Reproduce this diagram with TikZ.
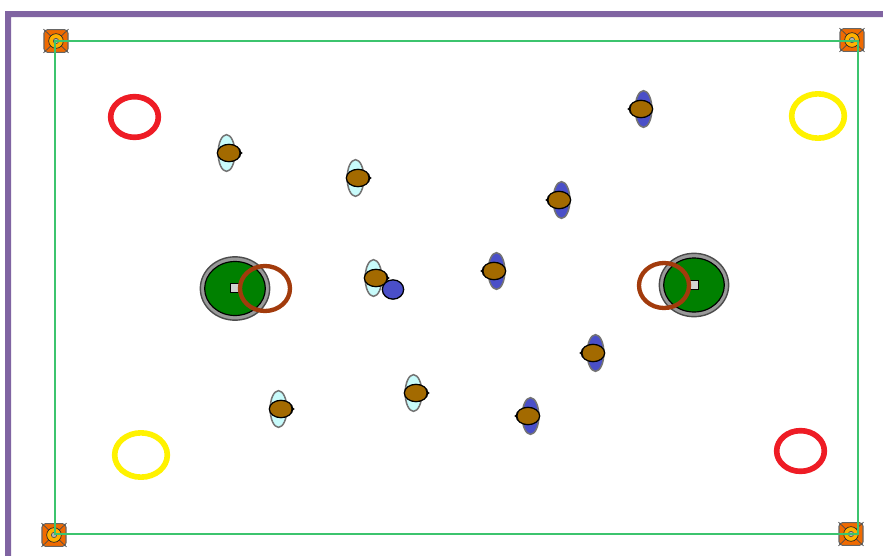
\documentclass[tikz,border=0pt]{standalone}
\usetikzlibrary{shapes.geometric, positioning}
\definecolor{frame-purple}{HTML}{8064A2}
\definecolor{field-green}{HTML}{3CC46E}
\definecolor{ring-red}{HTML}{EE1C25}
\definecolor{ring-yellow}{HTML}{FFF200}
\definecolor{ring-brown}{HTML}{A23B0C}
\definecolor{goal-green}{HTML}{008000}
\definecolor{goal-grey}{HTML}{999999}
\definecolor{body-brown}{HTML}{A36A00}
\definecolor{side-cyan}{HTML}{C8FBFB}
\definecolor{side-blue}{HTML}{4A4FC8}
\definecolor{post-orange}{HTML}{F06A00}
\definecolor{post-yellow}{HTML}{FFB000}
\tikzset{
  x=0.03cm, y=-0.03cm,
  oval/.style={ellipse, inner sep=0pt, outer sep=0pt},
  ringmark/.style={oval, draw=#1, line width=4.8pt, fill=none},
  goalrim/.style={oval, draw=black!70, fill=goal-grey, line width=1.2pt,
    minimum width=2.08cm, minimum height=1.9cm},
  goalpad/.style={oval, draw=black, fill=goal-green, line width=1pt,
    minimum width=1.82cm, minimum height=1.62cm},
  goalspot/.style={draw=black, fill=black!18, line width=1pt, inner sep=0pt,
    minimum width=0.28cm, minimum height=0.28cm},
  sidecyan/.style={oval, draw=black!55, fill=side-cyan, line width=1.3pt,
    minimum width=0.5cm, minimum height=1.1cm},
  sideblue/.style={oval, draw=black!55, fill=side-blue, line width=1.3pt,
    minimum width=0.5cm, minimum height=1.1cm},
  bodybrown/.style={oval, draw=black, fill=body-brown, line width=1.1pt,
    minimum width=0.7cm, minimum height=0.52cm},
  bodycore/.style={oval, fill=body-brown, minimum width=0.62cm, minimum height=0.45cm},
  ballblue/.style={oval, draw=black, fill=side-blue, line width=1.1pt,
    minimum width=0.64cm, minimum height=0.58cm},
  postbox/.style={draw=black!60, fill=post-orange, rounded corners=3pt, line width=0.9pt,
    minimum width=0.72cm, minimum height=0.68cm, inner sep=0pt},
  postring/.style={circle, draw=black!85, fill=post-yellow, line width=0.6pt,
    minimum size=0.44cm, inner sep=0pt},
  posteye/.style={circle, draw=black!70, fill=black!30, line width=0.5pt,
    minimum size=0.16cm, inner sep=0pt},
  fieldline/.style={draw=field-green, line width=1pt}
}

\begin{document}
\begin{tikzpicture}
  \useasboundingbox (0,0) rectangle (883,556);

  % ---- outer frame ---------------------------------------------------------
  \fill[frame-purple] (5,556) -- (5,11) -- (883,11) -- (883,17) -- (11,17) -- (11,556) -- cycle;

  % ---- corner posts --------------------------------------------------------
  \foreach \name/\px/\py in {nw/56/41, ne/852/40, se/851/534, sw/54/535} {
    \node[postbox] (\name) at (\px,\py) {};
    \draw[black!70, line width=0.6pt] (\name.north west) -- (\name.south east)
      (\name.north east) -- (\name.south west);
    \node[postring] (\name-ring) at (\name) {};
    \node[posteye] (\name-eye) at (\name) {};
  }

  % ---- field lines ---------------------------------------------------------
  \coordinate (fieldA) at (55,41);
  \coordinate (fieldB) at (858,41);
  \coordinate (fieldC) at (858,534);
  \coordinate (fieldD) at (55,534);
  \draw[fieldline] (fieldA) -- (fieldB) -- (fieldC) -- (fieldD) -- cycle;

  % ---- corner rings --------------------------------------------------------
  \node[ringmark=ring-red, minimum width=1.43cm, minimum height=1.22cm] (red1) at (134.5,117) {};
  \node[ringmark=ring-red, minimum width=1.43cm, minimum height=1.22cm] (red2) at (800.5,451) {};
  \node[ringmark=ring-yellow, minimum width=1.58cm, minimum height=1.33cm] (yellow1) at (818,116) {};
  \node[ringmark=ring-yellow, minimum width=1.58cm, minimum height=1.33cm] (yellow2) at (141,455) {};

  % ---- goals ---------------------------------------------------------------
  \node[goalrim] (rimL) at (235,288.5) {};
  \node[goalpad] (padL) at (235,288.5) {};
  \node[goalspot] (spotL) at (235,288) {};
  \node[goalrim] (rimR) at (694,285) {};
  \node[goalpad] (padR) at (694,285) {};
  \node[goalspot] (spotR) at (694,285) {};
  \node[ringmark=ring-brown, line width=3.7pt, minimum width=1.5cm, minimum height=1.35cm] (arcL) at (265,288.5) {};
  \node[ringmark=ring-brown, line width=3.7pt, minimum width=1.5cm, minimum height=1.35cm] (arcR) at (664,285.5) {};

  % ---- cyan side -----------------------------------------------------------
  \foreach \name/\px/\py in {c1/229/153, c2/358/178, c3/376/278, c4/281/409, c5/416/393} {
    \node[sidecyan] (\name-side) at (\px-2.5,\py) {};
    \node[bodybrown] (\name) at (\px,\py) {};
    \fill[black] ([shift={(-3,-4)}]\name.east) -- ([shift={(2,0)}]\name.east)
      -- ([shift={(-3,4)}]\name.east) -- cycle;
    \node[bodycore] at (\name) {};
  }

  % ---- blue side -----------------------------------------------------------
  \foreach \name/\px/\py in {b1/641/109, b2/559/200, b3/494/271, b4/593/353, b5/528/416} {
    \node[sideblue] (\name-side) at (\px+2.5,\py) {};
    \node[bodybrown] (\name) at (\px,\py) {};
    \fill[black] ([shift={(3,-4)}]\name.west) -- ([shift={(-2,0)}]\name.west)
      -- ([shift={(3,4)}]\name.west) -- cycle;
    \node[bodycore] at (\name) {};
  }

  % ---- ball ----------------------------------------------------------------
  \node[ballblue] (ball) at (393,289.5) {};

\end{tikzpicture}
\end{document}
